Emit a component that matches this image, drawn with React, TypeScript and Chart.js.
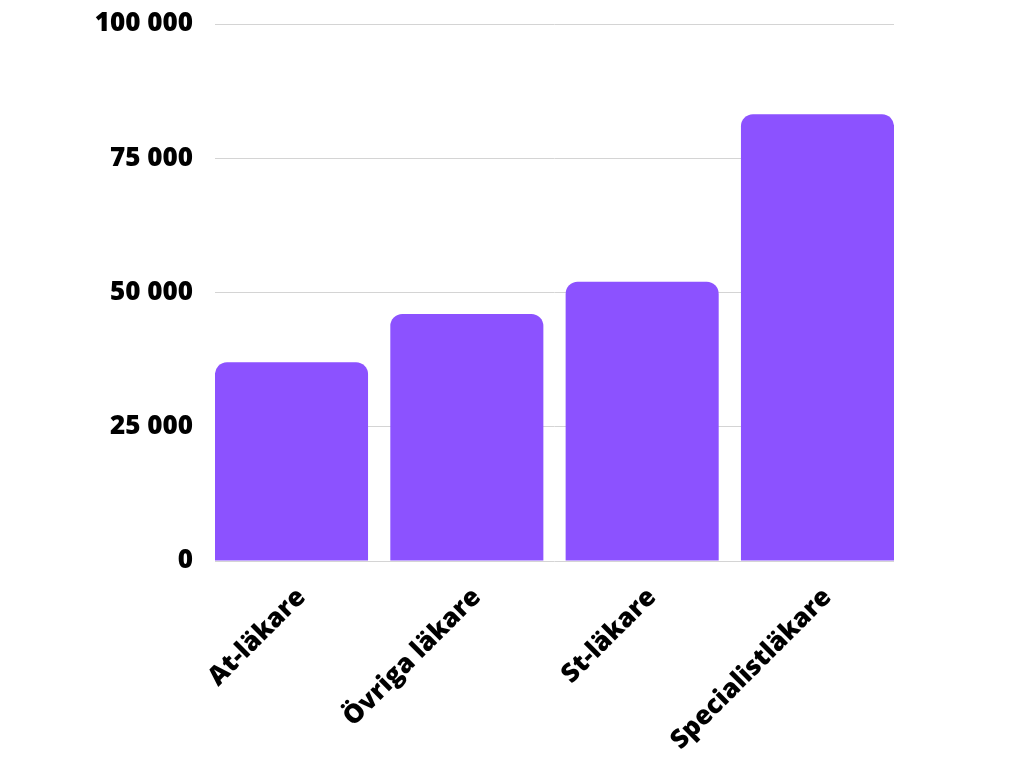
import React, { useEffect, useRef } from "react";
import { Chart, registerables } from "chart.js";

Chart.register(...registerables);

const categories: string[] = ["At-läkare", "Övriga läkare", "St-läkare", "Specialistläkare"];
const values: number[] = [37000, 46000, 52000, 83200];
const yTicks: number[] = [0, 25000, 50000, 75000, 100000];

const fmt = (v: number) => String(Math.round(v)).replace(/\B(?=(\d{3})+(?!\d))/g, " ");

export default function App() {
  const ref = useRef<HTMLCanvasElement | null>(null);
  useEffect(() => {
    if (!ref.current) return;
    const font = { family: "'Open Sans', sans-serif", size: 26, weight: 800 as any };
    const chart = new Chart(ref.current, {
      type: "bar",
      data: {
        datasets: [
          {
            data: categories.map((_, i) => ({ x: i, y: values[i] })),
            backgroundColor: "#8C52FF",
            borderRadius: 12,
            borderSkipped: "start",
            barPercentage: 0.873,
            categoryPercentage: 1,
          },
        ],
      },
      options: {
        animation: false,
        responsive: false,
        maintainAspectRatio: false,
        layout: { padding: { top: 24, right: 130, left: 0, bottom: 0 } },
        plugins: { legend: { display: false }, tooltip: { enabled: false } },
        scales: {
          x: {
            type: "linear",
            offset: false,
            min: -0.4364,
            max: categories.length - 1 + 0.4364,
            grid: { display: false },
            border: { display: false },
            afterBuildTicks: (scale: any) => {
              scale.ticks = categories.map((_, i) => ({ value: i + 0.057 }));
            },
            afterFit: (scale: any) => {
              scale.height = 198;
              scale.paddingLeft = 0;
              scale.paddingRight = 0;
            },
            ticks: {
              autoSkip: false,
              minRotation: 45,
              maxRotation: 45,
              padding: 13,
              color: "#000",
              font,
              callback: (v: any) => categories[Math.round(Number(v))] ?? "",
            },
          },
          y: {
            min: 0,
            max: 100000,
            border: { display: false },
            grid: { color: "#d4d4d4", lineWidth: 1, drawTicks: false },
            afterBuildTicks: (scale: any) => {
              scale.ticks = yTicks.map((v) => ({ value: v }));
            },
            afterFit: (scale: any) => {
              scale.width = 215;
              scale.paddingTop = 0;
              scale.paddingBottom = 0;
            },
            ticks: {
              padding: 22,
              color: "#000",
              font,
              callback: (v: any) => fmt(Number(v)),
            },
          },
        },
      },
    });
    return () => chart.destroy();
  }, []);
  return (
    <div style={{ position: "fixed", left: 0, top: 0, width: 1024, height: 759, background: "#fff" }}>
      <canvas ref={ref} width={1024} height={759} style={{ width: 1024, height: 759, display: "block" }} />
    </div>
  );
}
